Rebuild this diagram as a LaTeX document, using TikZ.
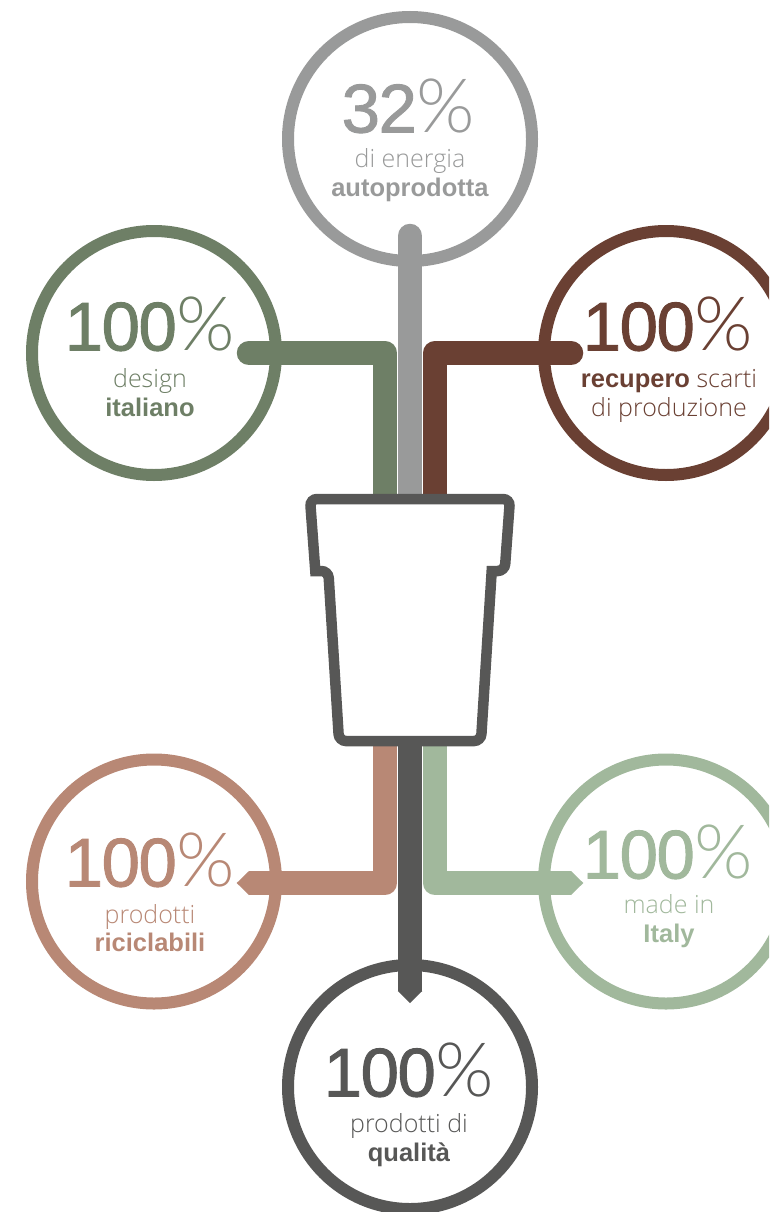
\documentclass[tikz,border=0pt]{standalone}
\usepackage{fontspec}
\setmainfont{Open Sans Light}[BoldFont=Liberation Sans Bold]
\newfontfamily\numfont{Liberation Sans}[FakeBold=1.3,LetterSpace=-2.2]
\newfontfamily\pctfont{Lato Light}
\definecolor{cGray}{HTML}{999A9A}
\definecolor{cGreen}{HTML}{6E7F66}
\definecolor{cBrown}{HTML}{6A4033}
\definecolor{cDark}{HTML}{575756}
\definecolor{cPink}{HTML}{B88875}
\definecolor{cLight}{HTML}{A1B89C}
\tikzset{
  ring/.style={circle,draw=#1,line width=12pt,minimum size=244pt,inner sep=0pt,fill=none},
  stem/.style={line width=24.5pt,draw=#1,line join=round},
  bignum/.style={text=#1,inner sep=0pt,font=\fontsize{69}{69}\selectfont},
  cap/.style={text=#1,inner sep=0pt,align=center,font=\fontsize{25}{28.3}\selectfont},
  potline/.style={draw=cDark,line width=10.5pt,fill=white,line join=miter}
}
\newcommand{\pct}[1]{{\numfont #1}{\pctfont\fontsize{75}{75}\selectfont\%}}
\newcommand{\hb}[1]{{\fontsize{25.5}{28.3}\selectfont\textbf{#1}}}
\begin{document}
\begin{tikzpicture}[x=1pt,y=-1pt]
\useasboundingbox (0,0) rectangle (769,1212);
\clip (0,0) rectangle (769,1212);
% rings
\node[ring=cGray]  (rTop)   at (410,139) {};
\node[ring=cGreen] (rLeft)  at (154,353) {};
\node[ring=cBrown] (rRight) at (666,353) {};
\node[ring=cPink]  (rPink)  at (154,881.5) {};
\node[ring=cLight] (rLight) at (666,881.5) {};
\node[ring=cDark]  (rBot)   at (410,1087) {};
% junction coordinates
\coordinate (gTop) at (410,236);
\coordinate (gEnd) at (410,499);
\coordinate (lEnd) at (249,353);
\coordinate (lKnee) at (385,353);
\coordinate (lPot) at (385,499);
\coordinate (bEnd) at (571,353);
\coordinate (bKnee) at (435,353);
\coordinate (bPot) at (435,499);
\coordinate (pPot) at (385,741);
\coordinate (pKnee) at (385,883);
\coordinate (pEnd) at (249,883);
\coordinate (iPot) at (435,741);
\coordinate (iKnee) at (435,883);
\coordinate (iEnd) at (571,883);
\coordinate (dPot) at (410,741);
\coordinate (dEnd) at (410,991);
% stems
\draw[stem=cGray,line cap=round] (gTop) -- (gEnd);
\draw[stem=cGreen,line cap=round] (lEnd) -- (lKnee) -- (lPot);
\draw[stem=cBrown,line cap=round] (bEnd) -- (bKnee) -- (bPot);
\draw[stem=cPink] (pPot) -- (pKnee) -- (pEnd);
\fill[cPink] (249,871) -- (236.7,883) -- (249,895) -- cycle;
\draw[stem=cLight] (iPot) -- (iKnee) -- (iEnd);
\fill[cLight] (571,871) -- (583.3,883) -- (571,895) -- cycle;
\draw[stem=cDark] (dPot) -- (dEnd);
\fill[cDark] (397.75,991) -- (410,1003) -- (422.25,991) -- cycle;
% pot
\draw[potline,rounded corners=7pt] (410,499) -- (510,499) -- (504.7,571) [sharp corners] -- (491.7,571) [rounded corners=7pt] -- (481,741) -- (339,741) -- (328.3,571) [sharp corners] -- (315.3,571) [rounded corners=7pt] -- (310,499) -- (410,499);
% texts
\node[bignum=cGray]  (t1) at (408.5,106) {\pct{32}};
\node[cap=cGray]     (c1) at (410,175) {di energia\\\hb{autoprodotta}};
\node[bignum=cGreen] (t2) at (150,324) {\pct{100}};
\node[cap=cGreen]    (c2) at (150,392.5) {design\\\hb{italiano}};
\node[bignum=cBrown] (t3) at (668,324) {\pct{100}};
\node[cap=cBrown]    (c3) at (669,396) {\hb{recupero} scarti\\di produzione};
\node[bignum=cPink]  (t4) at (150,860) {\pct{100}};
\node[cap=cPink]     (c4) at (150,928) {prodotti\\\hb{riciclabili}};
\node[bignum=cLight] (t5) at (668,852) {\pct{100}};
\node[cap=cLight]    (c5) at (669,921) {made in\\\hb{Italy}};
\node[bignum=cDark]  (t6) at (409,1070) {\pct{100}};
\node[cap=cDark]     (c6) at (409,1140) {prodotti di\\\hb{qualità}};
\end{tikzpicture}
\end{document}
